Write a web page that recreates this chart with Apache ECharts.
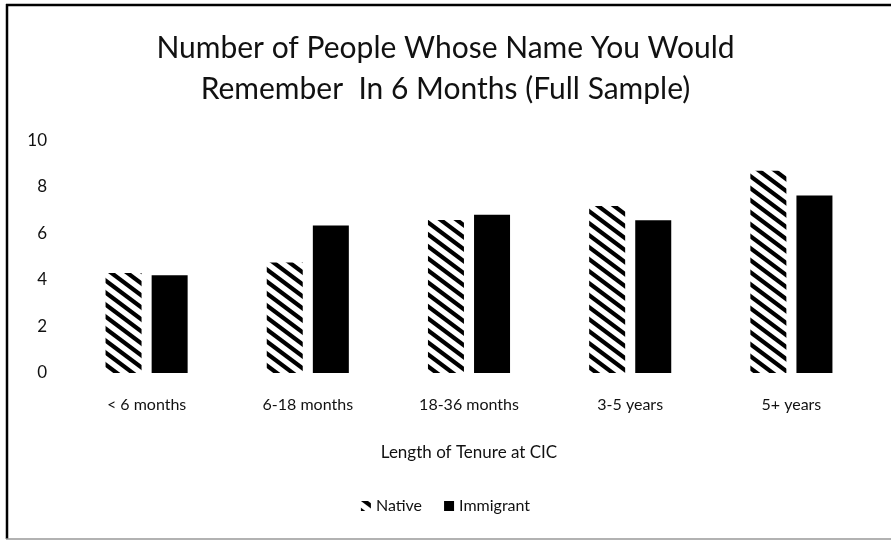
<!DOCTYPE html>
<html>
<head>
<meta charset="utf-8">
<script src="https://cdn.jsdelivr.net/npm/echarts@6/dist/echarts.min.js"></script>
<style>
  html, body { margin: 0; padding: 0; background: #fff; }
  #chart { width: 891px; height: 540px; }
</style>
</head>
<body>
<div id="chart"></div>
<script>
// data
var categories = ['< 6 months', '6-18 months', '18-36 months', '3-5 years', '5+ years'];
var native = [4.3, 4.75, 6.58, 7.18, 8.7];
var immigrant = [4.2, 6.34, 6.81, 6.57, 7.63];
var yTicks = [0, 2, 4, 6, 8, 10];

// wide downward diagonal hatch
function hatch() {
    var c = document.createElement('canvas');
    c.width = 16;
    c.height = 12;
    var ctx = c.getContext('2d');
    ctx.fillStyle = '#fff';
    ctx.fillRect(0, 0, 16, 12);
    ctx.fillStyle = '#000';
    [-16, 0].forEach(function (o) {
        ctx.beginPath();
        ctx.moveTo(o, 0);
        ctx.lineTo(o + 7, 0);
        ctx.lineTo(o + 23, 12);
        ctx.lineTo(o + 16, 12);
        ctx.closePath();
        ctx.fill();
    });
    return c;
}

var font = 'Lato, "Open Sans", sans-serif';
var chart = echarts.init(document.getElementById('chart'));

var option = {
    animation: false,
    title: {
        text: 'Number of People Whose Name You Would\nRemember  In 6 Months (Full Sample)',
        left: 'center',
        top: 23,
        textStyle: {
            fontFamily: font,
            fontSize: 30,
            fontWeight: 'normal',
            color: '#111',
            lineHeight: 41
        }
    },
    legend: {
        data: ['Native', 'Immigrant'],
        bottom: 21,
        left: 'center',
        icon: 'rect',
        itemWidth: 10,
        itemHeight: 10,
        itemGap: 22,
        textStyle: { fontFamily: font, fontSize: 16, color: '#111' }
    },
    grid: {
        left: 66,
        right: 19,
        top: 140.5,
        bottom: 167
    },
    xAxis: {
        type: 'category',
        data: categories,
        name: 'Length of Tenure at CIC',
        nameLocation: 'middle',
        nameGap: 71,
        nameTextStyle: { fontFamily: font, fontSize: 17, color: '#111' },
        axisLine: { show: false },
        axisTick: { show: false },
        axisLabel: { fontFamily: font, fontSize: 16, color: '#111', margin: 24 }
    },
    yAxis: {
        type: 'value',
        min: yTicks[0],
        max: yTicks[yTicks.length - 1],
        interval: 2,
        splitLine: { show: false },
        axisLine: { show: false },
        axisTick: { show: false },
        axisLabel: { fontFamily: font, fontSize: 17, color: '#111', margin: 19 }
    },
    series: [
        {
            name: 'Native',
            type: 'bar',
            data: native,
            barWidth: 36,
            barGap: '28%',
            itemStyle: { color: { image: hatch(), repeat: 'repeat' } }
        },
        {
            name: 'Immigrant',
            type: 'bar',
            data: immigrant,
            barWidth: 36,
            itemStyle: { color: '#000' }
        }
    ],
    graphic: [
        { type: 'line', shape: { x1: 7, y1: 4, x2: 7, y2: 539 }, style: { stroke: '#000', lineWidth: 2.5 } },
        { type: 'line', shape: { x1: 6, y1: 5, x2: 891, y2: 5 }, style: { stroke: '#000', lineWidth: 2.5 } },
        { type: 'line', shape: { x1: 6, y1: 539, x2: 891, y2: 539 }, style: { stroke: '#999', lineWidth: 1.5 } }
    ]
};

chart.setOption(option);
</script>
</body>
</html>
